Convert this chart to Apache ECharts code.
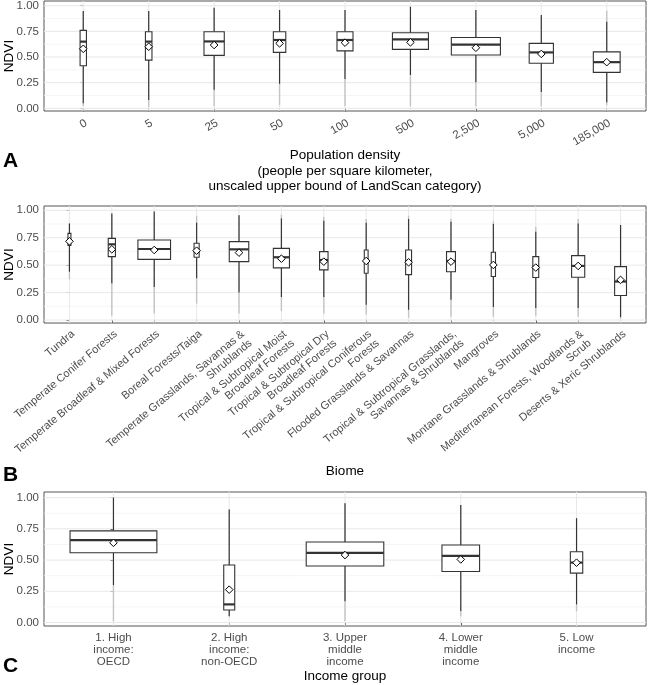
<!DOCTYPE html>
<html><head><meta charset="utf-8">
<script src="https://cdn.jsdelivr.net/npm/echarts@6/dist/echarts.min.js"></script>
<style>html,body{margin:0;padding:0;background:#fff}#c{width:648px;height:685px}</style>
</head><body><div id="c"></div>
<script>
// ---------- data ----------
const yTicks = [0, 0.25, 0.5, 0.75, 1];
const yTickLabels = ['0.00', '0.25', '0.50', '0.75', '1.00'];
const yMinorTicks = [0.125, 0.375, 0.625, 0.875];

// Panel A: population density
const popCategories = ['0', '5', '25', '50', '100', '500', '2,500', '5,000', '185,000'];
// [lower whisker, Q1, median, Q3, upper whisker]
const popStats = [
  [0.05, 0.415, 0.65, 0.76, 0.948],
  [0.08, 0.47, 0.65, 0.747, 0.948],
  [0.18, 0.516, 0.652, 0.747, 0.98],
  [0.24, 0.545, 0.666, 0.747, 0.958],
  [0.286, 0.56, 0.666, 0.747, 0.958],
  [0.325, 0.575, 0.672, 0.737, 0.99],
  [0.253, 0.52, 0.62, 0.69, 0.958],
  [0.16, 0.44, 0.545, 0.633, 0.91],
  [0.06, 0.35, 0.45, 0.55, 0.844]
];
const popMeans = [0.58, 0.60, 0.617, 0.633, 0.64, 0.643, 0.59, 0.53, 0.45];
const popOutlierRange = [[0.02, 0.948], [0.01, 0.948], [0.02, 0.98], [0.03, 0.958], [0.02, 0.958], [0.02, 0.99], [0.02, 0.958], [0.02, 0.91], [0.03, 0.95]];
const popRelSize = [0.097, 0.10, 0.31, 0.19, 0.245, 0.55, 0.75, 0.37, 0.41];

// Panel B: biome
const biomeCategories = [
  'Tundra', 'Temperate Conifer Forests', 'Temperate Broadleaf & Mixed Forests', 'Boreal Forests/Taiga',
  'Temperate Grasslands, Savannas &\nShrublands', 'Tropical & Subtropical Moist\nBroadleaf Forests',
  'Tropical & Subtropical Dry\nBroadleaf Forests', 'Tropical & Subtropical Coniferous\nForests',
  'Flooded Grasslands & Savannas', 'Tropical & Subtropical Grasslands,\nSavannas & Shrublands',
  'Mangroves', 'Montane Grasslands & Shrublands', 'Mediterranean Forests, Woodlands &\nScrub',
  'Deserts & Xeric Shrublands'
];
const biomeStats = [
  [0.44, 0.68, 0.72, 0.79, 0.88],
  [0.336, 0.578, 0.69, 0.744, 0.97],
  [0.30, 0.553, 0.647, 0.729, 0.99],
  [0.38, 0.572, 0.638, 0.70, 0.886],
  [0.25, 0.532, 0.644, 0.714, 0.955],
  [0.21, 0.475, 0.572, 0.653, 0.925],
  [0.21, 0.457, 0.547, 0.623, 0.904],
  [0.14, 0.426, 0.538, 0.638, 0.886],
  [0.094, 0.414, 0.526, 0.638, 0.92],
  [0.184, 0.44, 0.538, 0.623, 0.895],
  [0.118, 0.396, 0.502, 0.617, 0.874],
  [0.109, 0.387, 0.487, 0.578, 0.804],
  [0.109, 0.39, 0.493, 0.587, 0.88],
  [0.027, 0.224, 0.351, 0.487, 0.865]
];
const biomeMeans = [0.717, 0.644, 0.638, 0.632, 0.614, 0.559, 0.532, 0.538, 0.526, 0.532, 0.502, 0.478, 0.493, 0.366];
const biomeOutlierRange = [[0.37, 0.88], [0.04, 0.97], [0.06, 0.99], [0.15, 0.95], [0.06, 0.955], [0.08, 0.96], [0.06, 0.94], [0.05, 0.92], [0.02, 0.95], [0.03, 0.92], [0.03, 0.90], [0.04, 0.85], [0.03, 0.92], [0.01, 0.865]];
const biomeRelSize = [0.07, 0.17, 0.77, 0.12, 0.46, 0.38, 0.20, 0.09, 0.14, 0.21, 0.10, 0.14, 0.31, 0.28];

// Panel C: income group
const incomeCategories = ['1. High\nincome:\nOECD', '2. High\nincome:\nnon-OECD', '3. Upper\nmiddle\nincome', '4. Lower\nmiddle\nincome', '5. Low\nincome'];
const incomeStats = [
  [0.30, 0.559, 0.66, 0.734, 1.0],
  [0.053, 0.10, 0.145, 0.46, 0.904],
  [0.17, 0.453, 0.558, 0.645, 0.954],
  [0.092, 0.408, 0.534, 0.621, 0.94],
  [0.145, 0.395, 0.48, 0.566, 0.835]
];
const incomeMeans = [0.638, 0.263, 0.54, 0.505, 0.479];
const incomeOutlierRange = [[0.01, 1.0], [0.04, 0.904], [0.01, 0.954], [0.05, 0.94], [0.09, 0.835]];
const incomeRelSize = [0.75, 0.095, 0.67, 0.325, 0.107];

// ---------- chart ----------
const FONT = 'Liberation Sans, Arial, sans-serif';
const chart = echarts.init(document.getElementById('c'), null, {renderer: 'canvas'});

function renderBox(params, api) {
  const i = api.value(0);
  const lo = api.value(1), q1 = api.value(2), med = api.value(3), q3 = api.value(4), hi = api.value(5);
  const mean = api.value(6), olo = api.value(7), ohi = api.value(8), rw = api.value(9);
  const x = api.coord([i, med])[0];
  const Y = v => api.coord([i, v])[1];
  const band = api.size([1, 0])[0];
  const w = band * rw;
  const d = 3.8;
  const ym = Y(mean);
  return {
    type: 'group',
    children: [
      {type: 'line', shape: {x1: x, y1: Y(olo), x2: x, y2: Y(ohi)}, style: {stroke: '#c4c4c4', lineWidth: 1.4}},
      {type: 'line', shape: {x1: x, y1: Y(lo), x2: x, y2: Y(q1)}, style: {stroke: '#333', lineWidth: 1.1}},
      {type: 'line', shape: {x1: x, y1: Y(q3), x2: x, y2: Y(hi)}, style: {stroke: '#333', lineWidth: 1.1}},
      {type: 'rect', shape: {x: x - w / 2, y: Y(q3), width: w, height: Y(q1) - Y(q3)}, style: {fill: '#fff', stroke: '#333', lineWidth: 1.1}},
      {type: 'line', shape: {x1: x - w / 2, y1: Y(med), x2: x + w / 2, y2: Y(med)}, style: {stroke: '#333', lineWidth: 2.2}},
      {type: 'polygon', shape: {points: [[x, ym - d], [x + d, ym], [x, ym + d], [x - d, ym]]}, style: {fill: '#fff', stroke: '#000', lineWidth: 1}}
    ]
  };
}
function renderH(params, api) {
  const cs = params.coordSys;
  const y = api.coord([0, api.value(1)])[1];
  const minor = api.value(2) === 1;
  return {type: 'line', shape: {x1: cs.x, y1: y, x2: cs.x + cs.width, y2: y},
    style: {stroke: minor ? '#f3f3f3' : '#e8e8e8', lineWidth: minor ? 0.8 : 1}};
}
function renderV(params, api) {
  const cs = params.coordSys;
  const x = api.coord([api.value(0), 0])[0];
  return {type: 'line', shape: {x1: x, y1: cs.y, x2: x, y2: cs.y + cs.height},
    style: {stroke: '#e8e8e8', lineWidth: 1}};
}

const panels = [
  {cats: popCategories, stats: popStats, means: popMeans, out: popOutlierRange, rel: popRelSize,
   grid: {top: 1, height: 110}, ymin: -0.026, ymax: 1.046, rotate: 30, labelMargin: 6, labelSize: 11.5,
   name: 'Population density\n(people per square kilometer,\nunscaled upper bound of LandScan category)', nameGap: 37},
  {cats: biomeCategories, stats: biomeStats, means: biomeMeans, out: biomeOutlierRange, rel: biomeRelSize,
   grid: {top: 206, height: 117}, ymin: -0.027, ymax: 1.039, rotate: 40, labelMargin: 5, labelSize: 11,
   name: 'Biome', nameGap: 141},
  {cats: incomeCategories, stats: incomeStats, means: incomeMeans, out: incomeOutlierRange, rel: incomeRelSize,
   grid: {top: 492, height: 134}, ymin: -0.028, ymax: 1.045, rotate: 0, labelMargin: 6, labelSize: 11.5,
   name: 'Income group', nameGap: 43}
];

const grids = [], xAxes = [], yAxes = [], series = [];
panels.forEach((p, k) => {
  const idx = p.cats.map((c, i) => i);
  grids.push({left: 44, width: 602, top: p.grid.top, height: p.grid.height, show: true,
    borderColor: '#555', borderWidth: 1, backgroundColor: '#fff', containLabel: false, outerBoundsMode: 'none'});
  const lbl = {customValues: idx, formatter: v => p.cats[Math.round(v)], rotate: p.rotate,
    margin: p.labelMargin, fontSize: p.labelSize, color: '#4d4d4d', fontFamily: FONT, lineHeight: 12, hideOverlap: false};
  if (p.rotate) { lbl.align = 'right'; lbl.verticalAlign = 'top'; }
  xAxes.push({gridIndex: k, type: 'value', min: -0.6, max: p.cats.length - 1 + 0.6,
    axisLine: {show: false}, splitLine: {show: false},
    axisTick: {show: true, length: 3, customValues: idx, lineStyle: {color: '#333'}},
    axisLabel: lbl,
    name: p.name, nameLocation: 'middle', nameGap: p.nameGap, nameMoveOverlap: false,
    nameTextStyle: {fontSize: 13.5, color: '#000', fontFamily: FONT, lineHeight: 15.5}});
  yAxes.push({gridIndex: k, type: 'value', min: p.ymin, max: p.ymax,
    axisLine: {show: false}, splitLine: {show: false},
    axisTick: {show: true, length: 3, customValues: yTicks, lineStyle: {color: '#333'}},
    axisLabel: {customValues: yTicks, formatter: v => {const j = yTicks.findIndex(t => Math.abs(t - v) < 1e-9); return j >= 0 ? yTickLabels[j] : v.toFixed(2);},
      margin: 5, fontSize: 11.5, color: '#4d4d4d', fontFamily: FONT},
    name: 'NDVI', nameLocation: 'middle', nameGap: 28, nameRotate: 90, nameMoveOverlap: false,
    nameTextStyle: {fontSize: 13.5, color: '#000', fontFamily: FONT}});
  series.push({type: 'custom', xAxisIndex: k, yAxisIndex: k, z: 1, silent: true, renderItem: renderH,
    data: yTicks.map(v => [0, v, 0]).concat(yMinorTicks.map(v => [0, v, 1]))});
  series.push({type: 'custom', xAxisIndex: k, yAxisIndex: k, z: 1, silent: true, renderItem: renderV,
    data: idx.map(i => [i, 0])});
  series.push({type: 'custom', xAxisIndex: k, yAxisIndex: k, z: 2, silent: true, renderItem: renderBox,
    data: idx.map(i => [i].concat(p.stats[i], [p.means[i]], p.out[i], [p.rel[i]]))});
});

chart.setOption({
  animation: false,
  backgroundColor: '#fff',
  textStyle: {fontFamily: FONT},
  grid: grids, xAxis: xAxes, yAxis: yAxes, series: series,
  graphic: [
    {type: 'text', left: 3, top: 151, style: {text: 'A', font: 'bold 21px ' + FONT, fill: '#000'}},
    {type: 'text', left: 3, top: 465, style: {text: 'B', font: 'bold 21px ' + FONT, fill: '#000'}},
    {type: 'text', left: 3, top: 656, style: {text: 'C', font: 'bold 21px ' + FONT, fill: '#000'}}
  ]
});
</script></body></html>
